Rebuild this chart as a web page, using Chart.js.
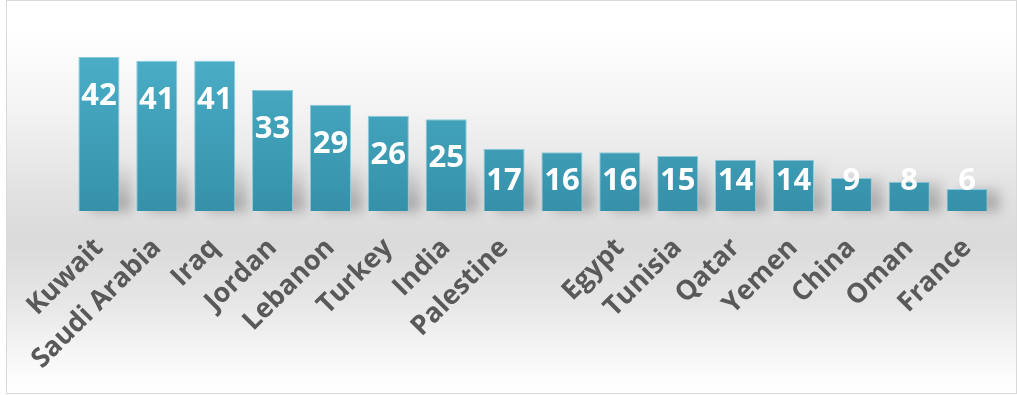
<!DOCTYPE html>
<html>
<head>
<meta charset="utf-8">
<script src="https://cdn.jsdelivr.net/npm/chart.js@4.4.1/dist/chart.umd.min.js"></script>
<style>
  html, body { margin: 0; padding: 0; background: #fff; }
  #frame {
    position: absolute; left: 6px; top: 0; width: 1009px; height: 392px;
    border: 1px solid #d9d9d9;
    background: linear-gradient(to bottom, #ffffff 0px, #ffffff 28px, #f3f3f3 110px, #e2e2e2 190px, #dadada 240px, #e6e6e6 300px, #fbfbfb 370px, #ffffff 392px);
  }
  #wrap { position: absolute; left: 0; top: 0; width: 1017px; height: 395px; }
</style>
</head>
<body>
<div id="frame"></div>
<div id="wrap"><canvas id="bar-chart"></canvas></div>
<script>
var countries = ['Kuwait', 'Saudi Arabia', 'Iraq', 'Jordan', 'Lebanon', 'Turkey', 'India', 'Palestine', '', 'Egypt', 'Tunisia', 'Qatar', 'Yemen', 'China', 'Oman', 'France'];
var counts = [42, 41, 41, 33, 29, 26, 25, 17, 16, 16, 15, 14, 14, 9, 8, 6];
var yMax = 45;

// soft grey shadow at the foot of each bar
var barShadow = {
    id: 'barShadow',
    beforeDatasetsDraw: function (chart) {
        var ctx = chart.ctx;
        chart.getDatasetMeta(0).data.forEach(function (bar) {
            var w = bar.width;
            var g = ctx.createLinearGradient(0, bar.base - 50, 0, bar.base);
            g.addColorStop(0, 'rgba(0,0,0,0)');
            g.addColorStop(1, 'rgba(0,0,0,0.28)');
            ctx.save();
            ctx.filter = 'blur(6px)';
            ctx.fillStyle = g;
            var h = Math.min(50, bar.base - bar.y);
            ctx.fillRect(bar.x - w / 2 + 12, bar.base - h, w, h);
            ctx.restore();
        });
    }
};

// white values inside the top of each bar
var valueLabels = {
    id: 'valueLabels',
    afterDatasetsDraw: function (chart) {
        var ctx = chart.ctx;
        ctx.save();
        ctx.font = 'bold 31px "Open Sans"';
        ctx.fillStyle = '#ffffff';
        ctx.textAlign = 'center';
        ctx.textBaseline = 'alphabetic';
        chart.getDatasetMeta(0).data.forEach(function (bar, i) {
            var baseline = Math.min(bar.y + 48, bar.base - 21);
            ctx.fillText(String(counts[i]), bar.x, baseline);
        });
        ctx.restore();
    }
};

function showChart() {
    var canvas = document.getElementById('bar-chart');
    var ctx = canvas.getContext('2d');
    var grad = ctx.createLinearGradient(0, 57, 0, 211);
    grad.addColorStop(0, '#4badc6');
    grad.addColorStop(1, '#3591a9');

    new Chart(canvas, {
        type: 'bar',
        data: {
            labels: countries,
            datasets: [{
                data: counts,
                backgroundColor: grad,
                borderColor: '#8ccadb',
                borderWidth: 1,
                barPercentage: 0.71,
                categoryPercentage: 1
            }]
        },
        options: {
            responsive: true,
            maintainAspectRatio: false,
            animation: false,
            layout: { padding: { top: 46, left: 70, right: 21, bottom: 0 } },
            plugins: { legend: { display: false }, tooltip: { enabled: false } },
            scales: {
                y: { display: false, min: 0, max: yMax },
                x: {
                    grid: { display: false, drawTicks: false },
                    border: { display: false },
                    afterFit: function (scale) { scale.height = 184; },
                    ticks: {
                        autoSkip: false,
                        maxRotation: 45,
                        minRotation: 45,
                        padding: 21,
                        color: '#595959',
                        font: { family: 'Open Sans', weight: 'bold', size: 27 }
                    }
                }
            }
        },
        plugins: [barShadow, valueLabels]
    });
}

window.onload = function () {
    showChart();
};
</script>
</body>
</html>
